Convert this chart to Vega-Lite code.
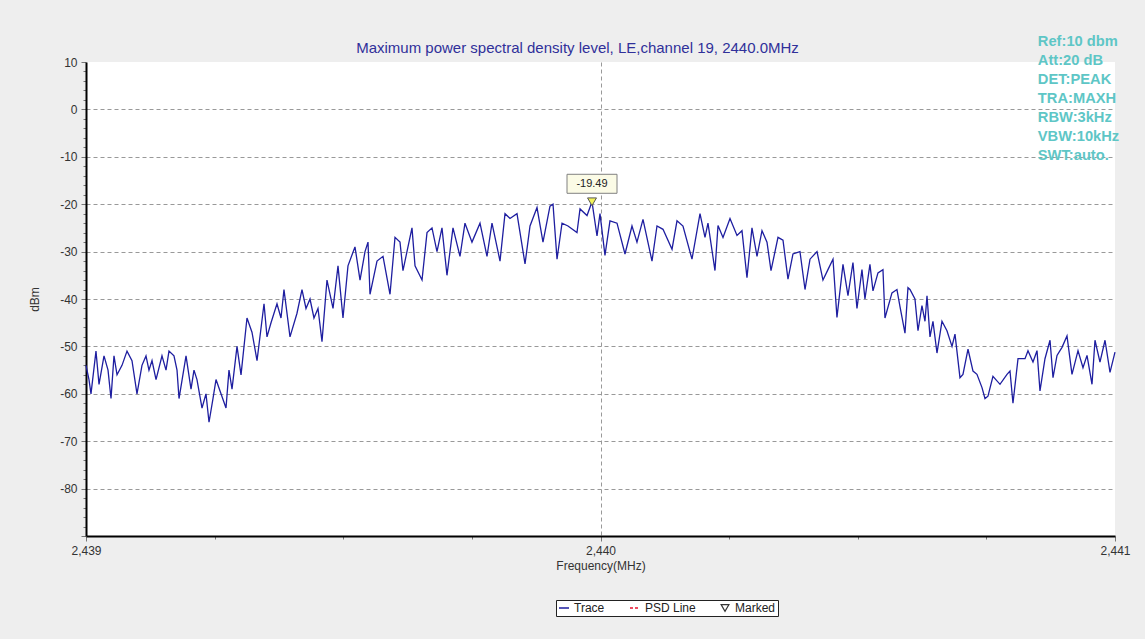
{
  "$schema": "https://vega.github.io/schema/vega-lite/v6.json",
  "width": 1029,
  "height": 474,
  "autosize": "none",
  "padding": {"left": 86, "top": 62, "right": 30, "bottom": 103},
  "background": "#eeeeee",
  "config": {
    "view": {"fill": "white", "stroke": null},
    "font": "Liberation Sans"
  },
  "title": {
    "text": "Maximum power spectral density level, LE,channel 19, 2440.0MHz",
    "fontSize": 15,
    "fontWeight": "normal",
    "color": "#30309a",
    "font": "Liberation Sans",
    "anchor": "middle",
    "frame": "group",
    "dx": -23,
    "offset": -22
  },
  "data": {"values": [
    {"f":2439.0000,"p":-54},{"f":2439.0058,"p":-57},{"f":2439.0097,"p":-60},{"f":2439.0194,"p":-51},
    {"f":2439.0253,"p":-58},{"f":2439.0350,"p":-52},{"f":2439.0428,"p":-55},{"f":2439.0486,"p":-61},
    {"f":2439.0544,"p":-52},{"f":2439.0603,"p":-56},{"f":2439.0700,"p":-54},{"f":2439.0797,"p":-51},
    {"f":2439.0894,"p":-53},{"f":2439.0991,"p":-60},{"f":2439.1088,"p":-54},{"f":2439.1166,"p":-52},
    {"f":2439.1224,"p":-55},{"f":2439.1283,"p":-53},{"f":2439.1361,"p":-57},{"f":2439.1477,"p":-52},
    {"f":2439.1555,"p":-55},{"f":2439.1613,"p":-51},{"f":2439.1710,"p":-52},{"f":2439.1769,"p":-55},
    {"f":2439.1808,"p":-61},{"f":2439.1944,"p":-52},{"f":2439.2041,"p":-59},{"f":2439.2099,"p":-55},
    {"f":2439.2157,"p":-57},{"f":2439.2255,"p":-63},{"f":2439.2332,"p":-60},{"f":2439.2391,"p":-66},
    {"f":2439.2468,"p":-61},{"f":2439.2527,"p":-57},{"f":2439.2624,"p":-60},{"f":2439.2721,"p":-63},
    {"f":2439.2779,"p":-55},{"f":2439.2838,"p":-59},{"f":2439.2935,"p":-50},{"f":2439.3013,"p":-56},
    {"f":2439.3129,"p":-44},{"f":2439.3226,"p":-47},{"f":2439.3324,"p":-53},{"f":2439.3460,"p":-41},
    {"f":2439.3518,"p":-48},{"f":2439.3596,"p":-45},{"f":2439.3712,"p":-41},{"f":2439.3790,"p":-44},
    {"f":2439.3848,"p":-38},{"f":2439.3965,"p":-48},{"f":2439.4101,"p":-43},{"f":2439.4198,"p":-38},
    {"f":2439.4276,"p":-42},{"f":2439.4354,"p":-40},{"f":2439.4431,"p":-44},{"f":2439.4509,"p":-42},
    {"f":2439.4587,"p":-49},{"f":2439.4684,"p":-36},{"f":2439.4801,"p":-42},{"f":2439.4898,"p":-33},
    {"f":2439.4995,"p":-44},{"f":2439.5092,"p":-33},{"f":2439.5228,"p":-29},{"f":2439.5326,"p":-36},
    {"f":2439.5423,"p":-30},{"f":2439.5481,"p":-28},{"f":2439.5520,"p":-39},{"f":2439.5656,"p":-32},
    {"f":2439.5773,"p":-31},{"f":2439.5909,"p":-39},{"f":2439.6006,"p":-27},{"f":2439.6103,"p":-28},
    {"f":2439.6161,"p":-34},{"f":2439.6336,"p":-25},{"f":2439.6395,"p":-33},{"f":2439.6531,"p":-36},
    {"f":2439.6628,"p":-26},{"f":2439.6725,"p":-25},{"f":2439.6822,"p":-30},{"f":2439.6919,"p":-25},
    {"f":2439.7016,"p":-35},{"f":2439.7133,"p":-25},{"f":2439.7269,"p":-31},{"f":2439.7366,"p":-24},
    {"f":2439.7502,"p":-28},{"f":2439.7658,"p":-24},{"f":2439.7794,"p":-31},{"f":2439.7891,"p":-24},
    {"f":2439.8047,"p":-32},{"f":2439.8144,"p":-22},{"f":2439.8241,"p":-23},{"f":2439.8377,"p":-22},
    {"f":2439.8533,"p":-32.6},{"f":2439.8630,"p":-24.6},{"f":2439.8766,"p":-20.7},{"f":2439.8882,"p":-28},
    {"f":2439.9018,"p":-20.4},{"f":2439.9077,"p":-20},{"f":2439.9155,"p":-31.6},{"f":2439.9252,"p":-24},
    {"f":2439.9368,"p":-24.6},{"f":2439.9543,"p":-26},{"f":2439.9602,"p":-21},{"f":2439.9738,"p":-22.4},
    {"f":2439.9835,"p":-19.49},{"f":2439.9932,"p":-26.7},{"f":2439.9990,"p":-22},{"f":2440.0087,"p":-30.8},
    {"f":2440.0184,"p":-23.5},{"f":2440.0321,"p":-24},{"f":2440.0476,"p":-30.5},{"f":2440.0612,"p":-24.6},
    {"f":2440.0709,"p":-28},{"f":2440.0826,"p":-23.2},{"f":2440.1001,"p":-32},{"f":2440.1098,"p":-24.6},
    {"f":2440.1215,"p":-25.3},{"f":2440.1390,"p":-29.5},{"f":2440.1487,"p":-23.5},{"f":2440.1603,"p":-24.6},
    {"f":2440.1778,"p":-31.6},{"f":2440.1934,"p":-22},{"f":2440.2031,"p":-27},{"f":2440.2089,"p":-24},
    {"f":2440.2225,"p":-34},{"f":2440.2284,"p":-24.5},{"f":2440.2381,"p":-27},{"f":2440.2517,"p":-23},
    {"f":2440.2653,"p":-26.6},{"f":2440.2750,"p":-25.6},{"f":2440.2847,"p":-35.5},{"f":2440.2944,"p":-25},
    {"f":2440.3042,"p":-31},{"f":2440.3139,"p":-25.6},{"f":2440.3236,"p":-28},{"f":2440.3314,"p":-34},
    {"f":2440.3450,"p":-27},{"f":2440.3547,"p":-27.6},{"f":2440.3644,"p":-35.8},{"f":2440.3741,"p":-30.5},
    {"f":2440.3877,"p":-30},{"f":2440.3975,"p":-38},{"f":2440.4072,"p":-31.6},{"f":2440.4208,"p":-30},
    {"f":2440.4324,"p":-36},{"f":2440.4421,"p":-33.8},{"f":2440.4519,"p":-31.6},{"f":2440.4596,"p":-43.9},
    {"f":2440.4713,"p":-32.7},{"f":2440.4810,"p":-39.3},{"f":2440.4907,"p":-32.3},{"f":2440.4985,"p":-42},
    {"f":2440.5082,"p":-33.8},{"f":2440.5140,"p":-40},{"f":2440.5237,"p":-32.7},{"f":2440.5296,"p":-38.3},
    {"f":2440.5393,"p":-34.5},{"f":2440.5490,"p":-33.8},{"f":2440.5529,"p":-44},{"f":2440.5665,"p":-38.7},
    {"f":2440.5762,"p":-38},{"f":2440.5821,"p":-41.6},{"f":2440.5918,"p":-47.2},{"f":2440.5976,"p":-37.6},
    {"f":2440.6015,"p":-38},{"f":2440.6112,"p":-40},{"f":2440.6171,"p":-46.7},{"f":2440.6248,"p":-41.4},
    {"f":2440.6307,"p":-44.7},{"f":2440.6346,"p":-39.3},{"f":2440.6404,"p":-48},{"f":2440.6462,"p":-44.7},
    {"f":2440.6540,"p":-51.4},{"f":2440.6637,"p":-44.7},{"f":2440.6734,"p":-46.7},{"f":2440.6832,"p":-50},
    {"f":2440.6890,"p":-47.4},{"f":2440.6987,"p":-56.6},{"f":2440.7045,"p":-55.9},{"f":2440.7143,"p":-50.6},
    {"f":2440.7240,"p":-55.2},{"f":2440.7317,"p":-55.9},{"f":2440.7415,"p":-58.7},{"f":2440.7473,"p":-61},
    {"f":2440.7531,"p":-60.5},{"f":2440.7628,"p":-56.3},{"f":2440.7765,"p":-58},{"f":2440.7901,"p":-55.9},
    {"f":2440.7959,"p":-55.2},{"f":2440.8017,"p":-62},{"f":2440.8115,"p":-52.6},{"f":2440.8251,"p":-52.6},
    {"f":2440.8309,"p":-50.9},{"f":2440.8406,"p":-53.3},{"f":2440.8484,"p":-50.9},{"f":2440.8542,"p":-59.4},
    {"f":2440.8639,"p":-52.6},{"f":2440.8737,"p":-48.7},{"f":2440.8795,"p":-56.6},{"f":2440.8873,"p":-51.9},
    {"f":2440.8970,"p":-50.2},{"f":2440.9067,"p":-47.8},{"f":2440.9164,"p":-55.9},{"f":2440.9281,"p":-50.9},
    {"f":2440.9378,"p":-54.5},{"f":2440.9456,"p":-51.9},{"f":2440.9553,"p":-58},{"f":2440.9611,"p":-48.7},
    {"f":2440.9708,"p":-53.3},{"f":2440.9806,"p":-48.7},{"f":2440.9903,"p":-55.5},{"f":2441.0000,"p":-51.2}
  ]},
  "layer": [
    {
      "mark": {"type": "line", "strokeWidth": 1.3},
      "encoding": {
        "x": {
          "field": "f", "type": "quantitative",
          "scale": {"domain": [2439, 2441], "nice": false, "zero": false},
          "axis": {
            "title": "Frequency(MHz)",
            "values": [2439, 2439.25, 2439.5, 2439.75, 2440, 2440.25, 2440.5, 2440.75, 2441],
            "tickCount": 50,
            "labelExpr": "datum.value % 1 === 0 ? format(datum.value, ',') : ''",
            "labelFlush": false, "labelOverlap": false, "labelBound": false,
            "labelFontSize": 12, "labelColor": "#333333", "labelPadding": 4,
            "tickSize": {"condition": {"test": "datum.value % 1 === 0", "value": 5}, "value": 3},
            "tickColor": "#777777",
            "domainColor": "#000000", "domainWidth": 2,
            "grid": true, "gridDash": [4, 3], "gridColor": "#999999",
            "gridOpacity": {"condition": {"test": "datum.value === 2440", "value": 1}, "value": 0},
            "titleFontSize": 12, "titleFontWeight": "normal", "titleColor": "#333333", "titlePadding": 4
          }
        },
        "y": {
          "field": "p", "type": "quantitative",
          "scale": {"domain": [-90, 10], "nice": false, "zero": false},
          "axis": {
            "title": "dBm",
            "values": [10,8,6,4,2,0,-2,-4,-6,-8,-10,-12,-14,-16,-18,-20,-22,-24,-26,-28,-30,-32,-34,-36,-38,-40,-42,-44,-46,-48,-50,-52,-54,-56,-58,-60,-62,-64,-66,-68,-70,-72,-74,-76,-78,-80,-82,-84,-86,-88,-90],
            "tickCount": 200,
            "labelExpr": "(datum.value % 10 === 0 && datum.value > -90) ? ('' + datum.value) : ''",
            "labelOverlap": false, "labelBound": false, "labelFlush": false,
            "labelFontSize": 12, "labelColor": "#333333", "labelPadding": 4,
            "tickSize": {"condition": {"test": "datum.value % 10 === 0", "value": 5}, "value": 3},
            "tickColor": "#777777",
            "domainColor": "#000000", "domainWidth": 2,
            "grid": true, "gridDash": [4, 3], "gridColor": "#999999",
            "gridOpacity": {"condition": {"test": "datum.value % 10 === 0 && datum.value < 10 && datum.value > -90", "value": 1}, "value": 0},
            "titleFontSize": 12, "titleFontWeight": "normal", "titleColor": "#333333", "titlePadding": 18
          }
        },
        "color": {
          "datum": "Trace",
          "scale": {"domain": ["Trace", "PSD Line", "Marked"], "range": ["#1e1ea0", "#e8102c", "#333333"]},
          "legend": {
            "title": null,
            "orient": "none",
            "legendX": 470,
            "legendY": 538,
            "direction": "horizontal",
            "fillColor": "white",
            "strokeColor": "#222222",
            "padding": 2,
            "labelFontSize": 12,
            "labelColor": "#222222",
            "labelOffset": 4,
            "columnPadding": 22,
            "symbolSize": 100,
            "symbolStrokeWidth": 1.5,
            "encode": {
              "symbols": {
                "update": {
                  "shape": {"signal": "datum.value === 'Marked' ? 'triangle-down' : 'stroke'"},
                  "strokeDash": {"signal": "datum.value === 'PSD Line' ? [3, 2] : [1, 0]"},
                  "fill": {"value": "transparent"},
                  "size": {"signal": "datum.value === 'Marked' ? 60 : 100"},
                  "strokeWidth": {"signal": "datum.value === 'Marked' ? 1.2 : 1.5"}
                }
              }
            }
          }
        }
      }
    },
    {
      "data": {"values": [{"f": 2439.9835, "p": -19.49, "lab": "-19.49"}]},
      "mark": {"type": "point", "shape": "M-1,-0.38L1,-0.38L1,0.38L-1,0.38Z", "size": 2500, "filled": true, "fill": "#fbfbe6", "stroke": "#808080", "strokeWidth": 1, "opacity": 1, "yOffset": -18},
      "encoding": {
        "x": {"field": "f", "type": "quantitative"},
        "y": {"field": "p", "type": "quantitative"}
      }
    },
    {
      "data": {"values": [{"f": 2439.9835, "p": -19.49, "lab": "-19.49"}]},
      "mark": {"type": "text", "fontSize": 11, "color": "#222222", "align": "center", "baseline": "middle", "yOffset": -18},
      "encoding": {
        "x": {"field": "f", "type": "quantitative"},
        "y": {"field": "p", "type": "quantitative"},
        "text": {"field": "lab", "type": "nominal"}
      }
    },
    {
      "data": {"values": [{"f": 2439.9835, "p": -19.49, "lab": "-19.49"}]},
      "mark": {"type": "point", "shape": "triangle-down", "size": 80, "filled": true, "fill": "#f2f25a", "stroke": "#555555", "strokeWidth": 1, "opacity": 1},
      "encoding": {
        "x": {"field": "f", "type": "quantitative"},
        "y": {"field": "p", "type": "quantitative"}
      }
    },
    {
      "data": {"values": [{"k": "settings"}]},
      "mark": {
        "type": "text",
        "text": ["Ref:10 dbm", "Att:20 dB", "DET:PEAK", "TRA:MAXH", "RBW:3kHz", "VBW:10kHz", "SWT:auto."],
        "fontSize": 14.7, "fontWeight": "bold", "color": "#5ec6c6",
        "align": "left", "baseline": "top", "lineHeight": 19
      },
      "encoding": {
        "x": {"datum": 2440.85},
        "y": {"datum": 15.9}
      }
    }
  ]
}
